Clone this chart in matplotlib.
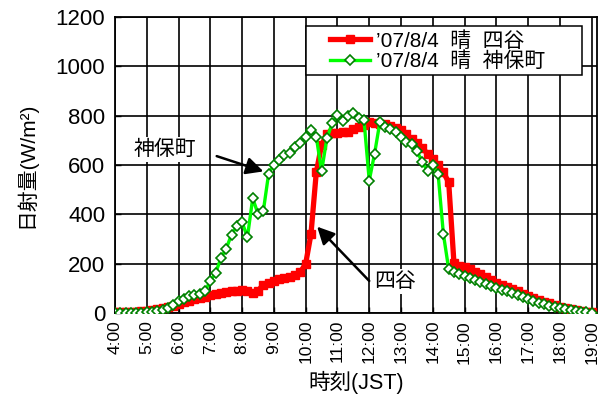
import matplotlib
matplotlib.use("Agg")
import matplotlib.pyplot as plt
from matplotlib.patches import Rectangle
import numpy as np

plt.rcParams['font.family'] = ['Liberation Sans', 'Noto Sans CJK JP', 'DejaVu Sans']

# 10-minute data, 4:00 .. 19:00
start_hour = 4
step_min = 10
yotsuya = [5, 5, 5, 5, 6, 8,
           10, 12, 15, 19, 24, 30,
           37, 44, 50, 55, 60, 66,
           72, 78, 82, 85, 88, 90,
           92, 88, 80, 90, 115, 122,
           129, 136, 142, 146, 153, 166,
           200, 320, 570, 681, 726, 730,
           729, 733, 735, 745, 753, 764,
           773, 770, 767, 765, 758, 750,
           740, 725, 705, 690, 670, 645,
           625, 600, 570, 530, 201, 192,
           185, 178, 168, 158, 147, 132,
           120, 112, 105, 97, 88, 78,
           68, 60, 53, 46, 40, 33,
           26, 20, 15, 11, 8, 6,
           5]
jimbocho = [2, 2, 2, 2, 2, 2,
            3, 4, 8, 12, 20, 31,
            47, 58, 68, 72, 77, 88,
            131, 162, 223, 261, 318, 352,
            368, 307, 465, 402, 413, 564,
            602, 619, 640, 650, 672, 688,
            715, 742, 715, 574, 708, 769,
            803, 780, 800, 810, 791, 784,
            537, 645, 773, 756, 746, 733,
            715, 692, 686, 658, 611, 577,
            598, 564, 320, 178, 165, 158,
            149, 140, 135, 124, 118, 110,
            102, 95, 88, 82, 75, 64,
            55, 48, 42, 36, 30, 25,
            20, 15, 11, 8, 5, 3,
            2]
label_yotsuya = "’07/8/4  晴  四谷"
label_jimbo = "’07/8/4  晴  神保町"
xtick_hours = list(range(4, 20))
xtick_labels = [f"{h}:00" for h in xtick_hours]
yticks = [0, 200, 400, 600, 800, 1000, 1200]

t = start_hour + np.arange(len(yotsuya)) * step_min / 60.0

W, H = 610, 394
fig = plt.figure(figsize=(W / 100, H / 100), dpi=100)
L, R, T, B = 115, 597, 17, 313
ax = fig.add_axes([L / W, 1 - B / H, (R - L) / W, (B - T) / H])

ax.plot(t, yotsuya, color='#FF0000', lw=3.8, marker='s', markersize=5.5,
        markerfacecolor='#FF0000', markeredgecolor='#FF0000', label=label_yotsuya, zorder=3)
ax.plot(t, jimbocho, color='#00FF00', lw=2.4, marker='D', markersize=4.6,
        markerfacecolor='white', markeredgecolor='#008000', markeredgewidth=1.2,
        label=label_jimbo, zorder=4)

ax.set_xlim(4, 19 + 10 / 60)
ax.set_ylim(0, 1200)
ax.set_xticks(xtick_hours)
ax.set_xticklabels(xtick_labels, rotation=90, fontsize=12.5)
ax.set_yticks(yticks)
ax.set_yticklabels([str(v) for v in yticks], fontsize=16)
ax.tick_params(direction='in', length=4, width=1)
ax.tick_params(axis='y', pad=7)
ax.tick_params(axis='x', pad=5)
ax.grid(True, color='black', lw=1.2)
ax.set_axisbelow(True)
for s in ax.spines.values():
    s.set_linewidth(1.3)

ax.set_xlabel("時刻(JST)", fontsize=15.5, labelpad=5)
ax.set_ylabel("日射量(W/m²)", fontsize=15, labelpad=14)

# legend box (frame drawn separately to match its padding)
def px2ax(x, y):
    return (x - L) / (R - L), (B - y) / (B - T)

bx0, by1 = px2ax(306, 26)
bx1, by0 = px2ax(582, 75)
ax.add_patch(Rectangle((bx0, by0), bx1 - bx0, by1 - by0, transform=ax.transAxes,
                       facecolor='white', edgecolor='black', lw=1.1, zorder=7))
lx, ly = px2ax(330, 51)
leg = ax.legend(loc='center left', bbox_to_anchor=(lx, ly), borderaxespad=0,
                fontsize=15, frameon=False, handlelength=1.9, labelspacing=0.05,
                borderpad=0, handletextpad=0.3)
leg.set_zorder(8)

# annotations
ax.text(5.57, 662, "神保町", fontsize=15, ha='center', va='center', zorder=6,
        bbox=dict(boxstyle='square,pad=0.15', fc='white', ec='none'))
ax.annotate("", xy=(8.67, 574), xytext=(7.2, 636),
            arrowprops=dict(arrowstyle='-|>', color='black', lw=1.8, mutation_scale=26,
                            shrinkA=0, shrinkB=0), zorder=6)
ax.text(12.8, 127, "四谷", fontsize=15, ha='center', va='center', zorder=6,
        bbox=dict(boxstyle='square,pad=0.15', fc='white', ec='none'))
ax.annotate("", xy=(10.36, 350), xytext=(12.0, 130),
            arrowprops=dict(arrowstyle='-|>', color='black', lw=1.8, mutation_scale=26,
                            shrinkA=0, shrinkB=0), zorder=6)

fig.savefig("out.png", dpi=100)
